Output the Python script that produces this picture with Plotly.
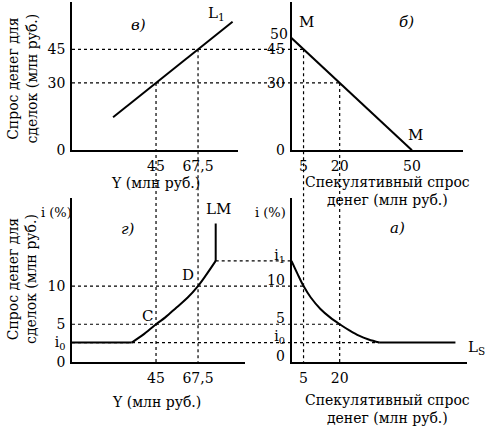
import plotly.graph_objects as go

W, H = 485, 445
FONT = "DejaVu Serif"

# --- data -------------------------------------------------------------
# panel в): transactions demand L1 against income Y
l1_income = [22, 86]
l1_trans = [14.7, 57.3]

# panel б): money supply split, transactions vs speculative demand
m_spec = [0, 50]
m_trans = [50, 0]

# panel а): speculative demand Ls against interest rate
i0, i1 = 2.6, 13.3
ls_spec_curve = [0, 2.5, 5, 8, 12, 16, 20, 24, 28, 32, 36.5]
ls_rate_curve = [i1, 11.6, 10, 8.5, 7.0, 5.9, 5, 4.2, 3.5, 3.0, i0]
ls_spec_flat = [36.5, 68]
ls_rate_flat = [i0, i0]

# panel г): resulting LM curve
lm_income_flat = [0, 32]
lm_rate_flat = [i0, i0]
lm_income_curve = [32, 38, 45, 50, 56, 62, 67.5, 72, 77]
lm_rate_curve = [i0, 3.6, 5, 5.9, 7.2, 8.5, 10, 11.5, i1]
lm_income_vert = [77, 77]
lm_rate_vert = [i1, 18.2]

# tick values / labels
trans_ticks = [0, 30, 45]
supply_ticks = [0, 30, 45]
supply_top = 50
income_ticks = [45, 67.5]
income_text = ["45", "67,5"]
spec_ticks_top = [5, 20, 50]
spec_ticks_bot = [5, 20]
rate_ticks_left = [0, i0, 5, 10]
rate_text_left = ["0", "i<sub>0</sub>", "5", "10"]
rate_ticks_right = [0, i0, 5, 10, i1]
rate_text_right = ["0", "i<sub>0</sub>", "5", "10", "i<sub>1</sub>"]

# --- layout of the four panels (pixel boxes) ---------------------------
def dom_x(a, b):
    return [a / W, b / W]

def dom_y(bottom, top):
    return [1 - bottom / H, 1 - top / H]

panels = {
    "tl": dict(x=dom_x(72, 238), y=dom_y(153, 2), xr=[0, 88.9], yr=[0, 66.1]),
    "tr": dict(x=dom_x(291.5, 463), y=dom_y(153, 2), xr=[0, 71.2], yr=[0, 66.1]),
    "bl": dict(x=dom_x(72, 245), y=dom_y(369, 202), xr=[0, 92.7], yr=[0, 21.5]),
    "br": dict(x=dom_x(291.5, 467), y=dom_y(369, 202), xr=[0, 72.8], yr=[0, 21.5]),
}
axis_ids = {"tl": ("x", "y"), "tr": ("x2", "y2"), "bl": ("x3", "y3"), "br": ("x4", "y4")}


def px(p, v):
    d, r = panels[p]["x"], panels[p]["xr"]
    return d[0] + (v - r[0]) / (r[1] - r[0]) * (d[1] - d[0])


def py(p, v):
    d, r = panels[p]["y"], panels[p]["yr"]
    return d[0] + (v - r[0]) / (r[1] - r[0]) * (d[1] - d[0])


fig = go.Figure()

line = dict(color="black", width=2)


def add(p, xs, ys, shape="linear"):
    xa, ya = axis_ids[p]
    fig.add_trace(go.Scatter(x=xs, y=ys, mode="lines", xaxis=xa, yaxis=ya,
                             line=dict(line, shape=shape), hoverinfo="skip"))


add("tl", l1_income, l1_trans)
add("tr", m_spec, m_trans)
add("br", ls_spec_curve, ls_rate_curve, "spline")
add("br", ls_spec_flat, ls_rate_flat)
add("bl", lm_income_flat, lm_rate_flat)
add("bl", lm_income_curve, lm_rate_curve, "spline")
add("bl", lm_income_vert, lm_rate_vert)

# dotted guide lines linking the panels
dot = dict(color="black", width=1.2, dash="dot")
horizontals = [
    (px("tl", 0), px("tr", 5), py("tl", 45)),
    (px("tl", 0), px("tr", 20), py("tl", 30)),
    (px("bl", 0), px("br", 5), py("bl", 10)),
    (px("bl", 0), px("br", 20), py("bl", 5)),
    (px("bl", 0), px("br", ls_spec_flat[0]), py("bl", i0)),
    (px("bl", lm_income_vert[0]), px("br", 0), py("bl", i1)),
]
for x0, x1, y in horizontals:
    fig.add_shape(type="line", xref="paper", yref="paper", x0=x0, x1=x1, y0=y, y1=y, line=dot)

verticals = [
    (px("tl", 45), py("tl", 30), py("bl", 0)),
    (px("tl", 67.5), py("tl", 45), py("bl", 0)),
    (px("tr", 5), py("tr", 45), py("br", 0)),
    (px("tr", 20), py("tr", 30), py("br", 0)),
]
for x, y0, y1 in verticals:
    fig.add_shape(type="line", xref="paper", yref="paper", x0=x, x1=x, y0=y0, y1=y1, line=dot)

# axes
common = dict(showgrid=False, zeroline=False, showline=True, linecolor="black",
              linewidth=1.5, ticks="", tickfont=dict(family=FONT, size=14, color="black"),
              fixedrange=True, ticklabelstandoff=2)


def ax_cfg(p, which, tickvals, ticktext=None, anchor=None, **kw):
    dom = panels[p]["x" if which == "x" else "y"]
    rng = panels[p]["xr" if which == "x" else "yr"]
    cfg = dict(common, domain=dom, range=rng, tickmode="array", tickvals=tickvals,
               ticktext=ticktext if ticktext else [str(v) for v in tickvals], anchor=anchor)
    cfg.update(kw)
    return cfg


fig.update_layout(
    xaxis=ax_cfg("tl", "x", income_ticks, income_text, "y"),
    yaxis=ax_cfg("tl", "y", trans_ticks, None, "x"),
    xaxis2=ax_cfg("tr", "x", spec_ticks_top, None, "y2"),
    yaxis2=ax_cfg("tr", "y", supply_ticks, None, "x2"),
    xaxis3=ax_cfg("bl", "x", income_ticks, income_text, "y3"),
    yaxis3=ax_cfg("bl", "y", rate_ticks_left, rate_text_left, "x3"),
    xaxis4=ax_cfg("br", "x", spec_ticks_bot, None, "y4"),
    yaxis4=ax_cfg("br", "y", rate_ticks_right, rate_text_right, "x4", ticklabelshift=-6),
)

# the "50" label sits a little above its level so it clears "45"
fig.add_annotation(text=str(supply_top), x=panels["tr"]["x"][0], y=supply_top,
                   xref="paper", yref="y2", xanchor="right", yanchor="middle",
                   xshift=-2, yshift=4, showarrow=False,
                   font=dict(family=FONT, size=14, color="black"))


def note(text, x, y, size=15, italic=False, angle=0):
    fig.add_annotation(text=f"<i>{text}</i>" if italic else text, x=x / W, y=1 - y / H,
                       xref="paper", yref="paper", showarrow=False, textangle=angle,
                       xanchor="center", yanchor="middle",
                       font=dict(family=FONT, size=size, color="black"))


note("в)", 138, 25, italic=True)
note("б)", 406, 22, italic=True)
note("г)", 128, 233, italic=True)
note("а)", 397, 232, italic=True)
note("L<sub>1</sub>", 216, 14)
note("M", 306, 22)
note("M", 415, 137)
note("LM", 218, 213)
note("D", 188, 280)
note("C", 147, 322)
note("L<sub>S</sub>", 476, 354)
note("i (%)", 56, 216, size=13)
note("i (%)", 270, 216, size=13)
note("Y (млн руб.)", 155, 186, size=14)
note("Y (млн руб.)", 156, 409, size=14)
note("Спекулятивный спрос<br>денег (млн руб.)", 387, 195, size=14)
note("Спекулятивный спрос<br>денег (млн руб.)", 387, 416, size=14)
note("Спрос денег для<br>сделок (млн руб.)", 22, 80, size=14, angle=-90)
note("Спрос денег для<br>сделок (млн руб.)", 22, 284, size=14, angle=-90)

fig.update_layout(
    width=W, height=H, autosize=False,
    margin=dict(l=0, r=0, t=0, b=0),
    paper_bgcolor="white", plot_bgcolor="rgba(0,0,0,0)",
    showlegend=False,
)

fig.write_html("out.html", config={"displayModeBar": False},
               post_script="document.body.style.margin='0px';")
